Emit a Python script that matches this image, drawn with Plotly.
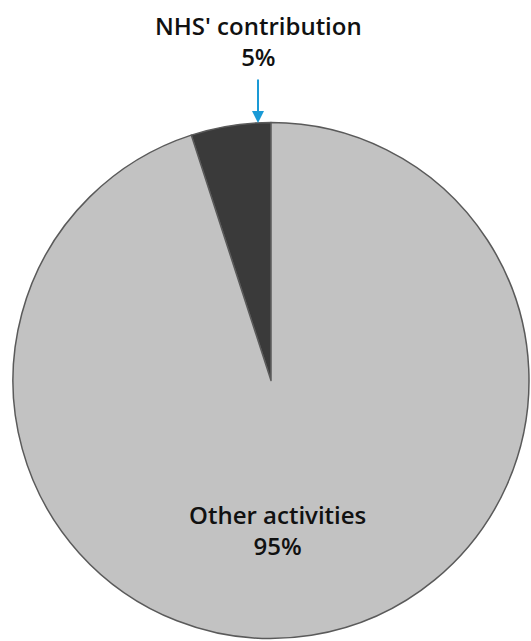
import plotly.graph_objects as go

categories = ["NHS' contribution", "Other activities"]
values = [5, 95]
colors = ["#3a3a3a", "#c2c2c2"]

W, H = 531, 641

fig = go.Figure()
fig.add_trace(go.Pie(
    labels=categories,
    values=values,
    sort=False,
    direction="clockwise",
    rotation=-18,
    textinfo="none",
    hoverinfo="label+percent",
    marker=dict(colors=colors, line=dict(color="#5a5a5a", width=1.5)),
    domain=dict(x=[13 / W, 529 / W], y=[1 - 640 / H, 1 - 121 / H]),
    showlegend=False,
))

font = dict(family="Open Sans", size=24, color="#111111", weight=600)

fig.add_annotation(x=258 / W, y=1 - 41 / H, xref="paper", yref="paper",
                   text=f"{categories[0]}<br>{values[0]}%", showarrow=False,
                   font=font, align="center", yanchor="middle")
fig.add_annotation(x=277 / W, y=1 - 530 / H, xref="paper", yref="paper",
                   text=f"{categories[1]}<br>{values[1]}%", showarrow=False,
                   font=font, align="center", yanchor="middle")
fig.add_annotation(x=258 / W, y=1 - 123 / H, xref="paper", yref="paper",
                   text="", showarrow=True, ax=0, ay=-45,
                   arrowhead=2, arrowsize=1.2, arrowwidth=2, arrowcolor="#1a9ad6")

fig.update_layout(width=W, height=H, margin=dict(l=0, r=0, t=0, b=0),
                  paper_bgcolor="white", plot_bgcolor="white")
fig.write_html("out.html")
